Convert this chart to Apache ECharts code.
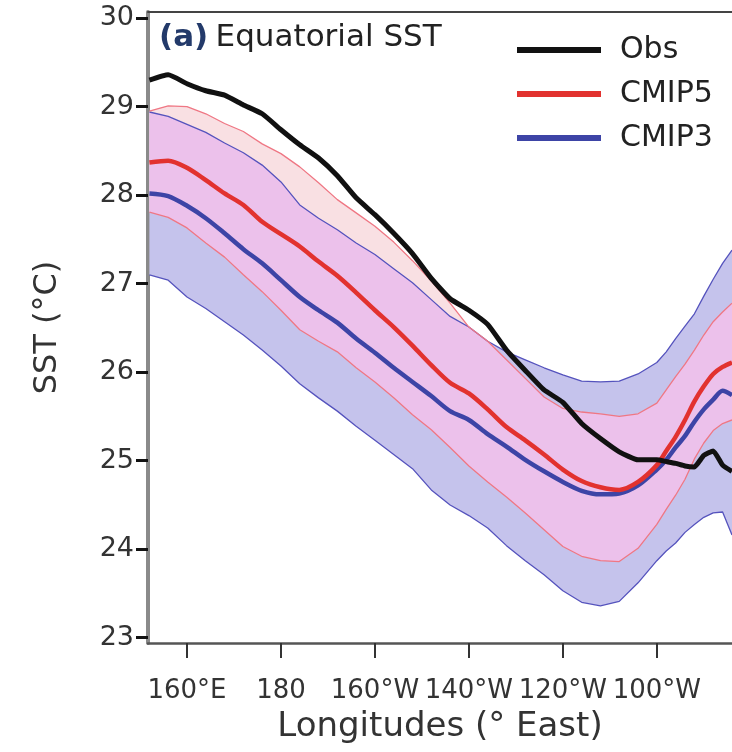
<!DOCTYPE html>
<html>
<head>
<meta charset="utf-8">
<script src="https://cdn.jsdelivr.net/npm/echarts@6/dist/echarts.min.js"></script>
<style>
html, body { margin: 0; padding: 0; background: #fff; }
#main { width: 732px; height: 752px; }
</style>
</head>
<body>
<div id="main"></div>
<script>
// longitudes (degrees east)
var lon = [152, 156, 160, 164, 168, 172, 176, 180, 184, 188, 192, 196, 200, 204, 208, 212,
           216, 220, 224, 228, 232, 236, 240, 244, 248, 252, 256, 260, 262, 264, 266, 268,
           270, 272, 274, 276];

// observed SST
var obs = [29.30, 29.36, 29.26, 29.18, 29.13, 29.02, 28.92, 28.74, 28.57, 28.42, 28.22, 27.97,
           27.78, 27.57, 27.34, 27.06, 26.83, 26.70, 26.54, 26.25, 26.02, 25.80, 25.66, 25.42,
           25.25, 25.10, 25.01, 25.01, 24.99, 24.97, 24.94, 24.93, 25.06, 25.11, 24.95, 24.88];

// CMIP5 ensemble mean, max and min
var cmip5 = [28.37, 28.39, 28.31, 28.17, 28.02, 27.89, 27.70, 27.56, 27.42, 27.25, 27.09, 26.90,
             26.70, 26.51, 26.30, 26.08, 25.88, 25.76, 25.58, 25.38, 25.23, 25.07, 24.90, 24.77,
             24.70, 24.67, 24.76, 24.95, 25.11, 25.27, 25.46, 25.67, 25.84, 25.98, 26.06, 26.11];
var cmip5Hi = [28.95, 29.01, 29.00, 28.92, 28.81, 28.72, 28.58, 28.47, 28.32, 28.14, 27.95, 27.80,
               27.65, 27.47, 27.26, 27.03, 26.78, 26.51, 26.35, 26.14, 25.93, 25.72, 25.59, 25.55,
               25.53, 25.50, 25.53, 25.65, 25.80, 25.95, 26.09, 26.25, 26.42, 26.57, 26.68, 26.78];
var cmip5Lo = [27.81, 27.75, 27.63, 27.46, 27.30, 27.10, 26.91, 26.70, 26.48, 26.35, 26.23, 26.05,
               25.89, 25.71, 25.52, 25.35, 25.15, 24.94, 24.76, 24.59, 24.41, 24.22, 24.03, 23.92,
               23.87, 23.86, 24.01, 24.28, 24.45, 24.61, 24.79, 25.02, 25.20, 25.34, 25.42, 25.46];

// CMIP3 ensemble mean, max and min
var cmip3 = [28.02, 27.99, 27.88, 27.74, 27.57, 27.39, 27.23, 27.04, 26.85, 26.70, 26.56, 26.38,
             26.22, 26.05, 25.89, 25.73, 25.56, 25.46, 25.30, 25.16, 25.01, 24.88, 24.76, 24.66,
             24.62, 24.63, 24.72, 24.90, 25.01, 25.15, 25.28, 25.44, 25.58, 25.69, 25.79, 25.74];
var cmip3Hi = [28.94, 28.89, 28.80, 28.71, 28.59, 28.48, 28.34, 28.15, 27.89, 27.74, 27.61, 27.46,
               27.33, 27.17, 27.01, 26.82, 26.63, 26.51, 26.35, 26.23, 26.14, 26.05, 25.97, 25.90,
               25.89, 25.90, 25.98, 26.11, 26.23, 26.38, 26.52, 26.66, 26.86, 27.05, 27.23, 27.38];
var cmip3Lo = [27.10, 27.04, 26.85, 26.72, 26.57, 26.42, 26.25, 26.07, 25.87, 25.71, 25.56, 25.39,
               25.23, 25.07, 24.91, 24.67, 24.50, 24.38, 24.24, 24.04, 23.87, 23.71, 23.53, 23.40,
               23.36, 23.41, 23.62, 23.87, 23.98, 24.07, 24.19, 24.28, 24.36, 24.41, 24.42, 24.16];

var xTicks = [160, 180, 200, 220, 240, 260];
var yTicks = [23, 24, 25, 26, 27, 28, 29, 30];

var FONT = 'DejaVu Sans';

function pairs(ys) {
    return lon.map(function (x, i) { return [x, ys[i]]; });
}

// overlap of the two ranges
var bothHi = lon.map(function (x, i) { return Math.min(cmip5Hi[i], cmip3Hi[i]); });
var bothLo = lon.map(function (x, i) { return Math.max(cmip5Lo[i], cmip3Lo[i]); });

// filled band between two curves
function band(name, hi, lo, color) {
    return {
        name: name,
        type: 'custom',
        silent: true,
        clip: true,
        data: [[lon[0], hi[0]]],
        renderItem: function (params, api) {
            var pts = [];
            for (var i = 0; i < lon.length; i++) pts.push(api.coord([lon[i], hi[i]]));
            for (var j = lon.length - 1; j >= 0; j--) pts.push(api.coord([lon[j], lo[j]]));
            return { type: 'polygon', shape: { points: pts }, style: { fill: color, stroke: null } };
        }
    };
}

function edge(name, ys, color) {
    return {
        name: name,
        type: 'line',
        data: pairs(ys),
        showSymbol: false,
        silent: true,
        lineStyle: { color: color, width: 1.3 },
        z: 3
    };
}

function mean(name, ys, color, width, smooth) {
    return {
        name: name,
        type: 'line',
        data: pairs(ys),
        showSymbol: false,
        smooth: smooth,
        itemStyle: { color: color },
        lineStyle: { color: color, width: width },
        z: 5
    };
}

function lonLabel(v) {
    if (v < 180) return v + '°E';
    if (v == 180) return '180';
    return (360 - v) + '°W';
}

var myChart = echarts.init(document.getElementById('main'), null, { renderer: 'canvas' });

var option = {
    animation: false,
    backgroundColor: '#fff',
    textStyle: { fontFamily: FONT },
    grid: { left: 148, right: 0, top: 12, height: 631 },
    legend: {
        data: ['Obs', 'CMIP5', 'CMIP3'],
        orient: 'vertical',
        left: 512,
        top: 27,
        icon: 'rect',
        itemWidth: 84,
        itemHeight: 6,
        itemGap: 8,
        textStyle: { fontFamily: FONT, fontSize: 30, color: '#222', padding: [0, 0, 0, 14], lineHeight: 36 }
    },
    xAxis: [{
        type: 'value',
        min: 151.7,
        max: 276,
        axisLine: { show: true, lineStyle: { color: '#555', width: 2.5 } },
        axisTick: { show: true, customValues: xTicks, length: 15, lineStyle: { color: '#333', width: 2 } },
        axisLabel: { customValues: xTicks, formatter: lonLabel, fontSize: 26, color: '#333', margin: 35, fontFamily: FONT },
        splitLine: { show: false },
        name: 'Longitudes (° East)',
        nameLocation: 'middle',
        nameGap: 67,
        nameTextStyle: { fontSize: 34, color: '#333', fontFamily: FONT }
    }, {
        type: 'value',
        position: 'top',
        min: 151.7,
        max: 276,
        axisLine: { show: true, lineStyle: { color: '#444', width: 2 } },
        axisTick: { show: false },
        axisLabel: { show: false },
        splitLine: { show: false }
    }],
    yAxis: {
        type: 'value',
        min: 22.94,
        max: 30.07,
        axisLine: { show: true, lineStyle: { color: '#8a8a8a', width: 4 } },
        axisTick: { show: true, customValues: yTicks, length: 12, lineStyle: { color: '#111', width: 3 } },
        axisLabel: { customValues: yTicks, fontSize: 27, color: '#333', margin: 14, fontFamily: FONT },
        splitLine: { show: false },
        name: 'SST (°C)',
        nameLocation: 'middle',
        nameRotate: 90,
        nameGap: 84,
        nameTextStyle: { fontSize: 32, color: '#333', fontFamily: FONT }
    },
    graphic: [{
        type: 'text',
        left: 159,
        top: 22,
        style: {
            text: '{a|(a)} {b|Equatorial SST}',
            rich: {
                a: { fontSize: 31, fontWeight: 'bold', fill: '#233a6a', fontFamily: FONT },
                b: { fontSize: 31, fill: '#222', fontFamily: FONT, padding: [0, 0, 0, 4] }
            }
        },
        z: 10
    }],
    series: [
        band('CMIP3 range', cmip3Hi, cmip3Lo, '#c5c3ec'),
        band('CMIP5 range', cmip5Hi, cmip5Lo, '#f9e0e3'),
        band('overlap', bothHi, bothLo, '#ecc1eb'),
        edge('CMIP3 max', cmip3Hi, '#5553bd'),
        edge('CMIP3 min', cmip3Lo, '#5553bd'),
        edge('CMIP5 max', cmip5Hi, '#ef7784'),
        edge('CMIP5 min', cmip5Lo, '#ef7784'),
        mean('CMIP3', cmip3, '#3d44a6', 4.5, 0.3),
        mean('CMIP5', cmip5, '#e2322f', 4.5, 0.3),
        mean('Obs', obs, '#111111', 5, 0.15)
    ]
};
myChart.setOption(option);
</script>
</body>
</html>
